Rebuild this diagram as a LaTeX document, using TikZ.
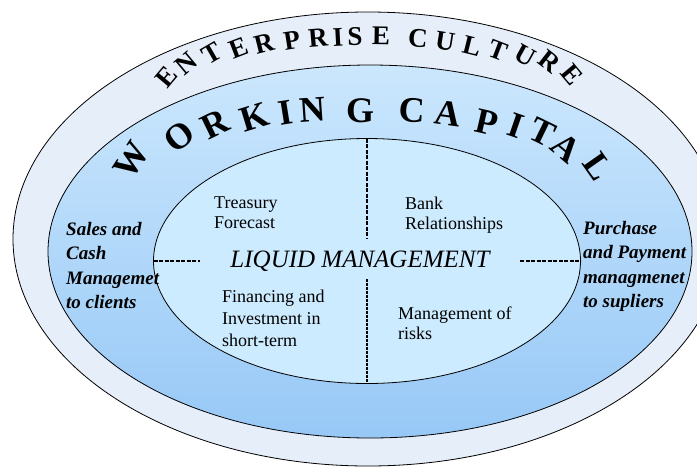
\documentclass[tikz,border=0pt]{standalone}
\usepackage{fontspec}
\setmainfont{Liberation Serif}
\usetikzlibrary{shapes.geometric}
\definecolor{culturefill}{HTML}{E6EEF9}
\definecolor{capitaltop}{HTML}{CBE7FD}
\definecolor{capitalbottom}{HTML}{97C8F6}
\definecolor{liquidfill}{HTML}{CDEBFE}
\begin{document}
\begin{tikzpicture}[x=1pt,y=-1pt,
  ring/.style={ellipse,draw=black,line width=0.8pt,inner sep=0pt,outer sep=0pt},
  divider/.style={line width=2pt,dash pattern=on 4pt off 1.5pt},
  archletter/.style={font=\fontsize{27}{27}\selectfont\bfseries,inner sep=0pt},
  bigletter/.style={font=\fontsize{36}{36}\selectfont\bfseries,inner sep=0pt},
  inside/.style={align=left,anchor=north west,inner sep=0pt,font=\fontsize{18}{20}\selectfont},
  side/.style={align=left,anchor=north west,inner sep=0pt,font=\fontsize{19}{24.5}\selectfont\bfseries\itshape}]
\useasboundingbox (0,0) rectangle (697,467);
\clip (0,0) rectangle (697,467);
% the three rings
\node[ring,fill=culturefill,minimum width=710,minimum height=454] (culture) at (368,239) {};
\node[ring,top color=capitaltop,bottom color=capitalbottom,minimum width=644,minimum height=373] (capital) at (370,251.5) {};
\node[ring,fill=liquidfill,minimum width=427,minimum height=245] (liquid) at (367,261) {};
% dashed cross
\coordinate (cutN) at (367,238);
\coordinate (cutS) at (367,279);
\coordinate (cutW) at (200,261);
\coordinate (cutE) at (520,261);
\draw[divider] (liquid.north) -- (cutN);
\draw[divider,dash pattern=on 3pt off 1pt] (cutS) -- (liquid.south);
\draw[divider] (liquid.west) -- (cutW);
\draw[divider] (cutE) -- (liquid.east);
% arched titles
\foreach \ch/\x/\y/\a [count=\i] in {E/167/77/50,N/186/63/40,T/212/53/30,E/239/48/21,R/264/44/14,P/292/40/9,R/318/38/5,I/338/37/3,S/355/37/1,E/381/36/-1,C/418/38/-4,U/445/41/-9,L/472/46/-14,T/498/50/-21,U/525/56/-29,R/550/62/-38,E/572/75/-50}
  \node[archletter,rotate=\a] (ec\i) at (\x,\y) {\ch};
\foreach \ch/\x/\y/\a [count=\i] in {W/132/160/57,O/179/137/38,R/215/124/26,K/254/117/17,I/286/113/9,N/313/110/4,G/360/111/0,C/412/110/-3,A/448/114/-8,P/487/122/-13,I/516/126/-19,T/542/132/-26,A/566/148/-40,L/598/167/-55}
  \node[bigletter,rotate=\a] (wc\i) at (\x,\y) {\ch};
% texts
\node[font=\fontsize{25}{25}\selectfont\itshape] (lm) at (360,261) {LIQUID MANAGEMENT};
\node[inside] (treasury) at (214,197) {Treasury\\Forecast};
\node[inside] (bank) at (405,197) {Bank\\Relationships};
\node[inside,font=\fontsize{18}{22}\selectfont] (financing) at (222,290) {Financing and\\Investment in\\short-term};
\node[inside] (risks) at (398,307) {Management of\\risks};
\node[side] (sales) at (66,222) {Sales and\\Cash\\Managemet\\to clients};
\node[side] (purchase) at (583,221) {Purchase\\and Payment\\managmenet\\to supliers};
\end{tikzpicture}
\end{document}
